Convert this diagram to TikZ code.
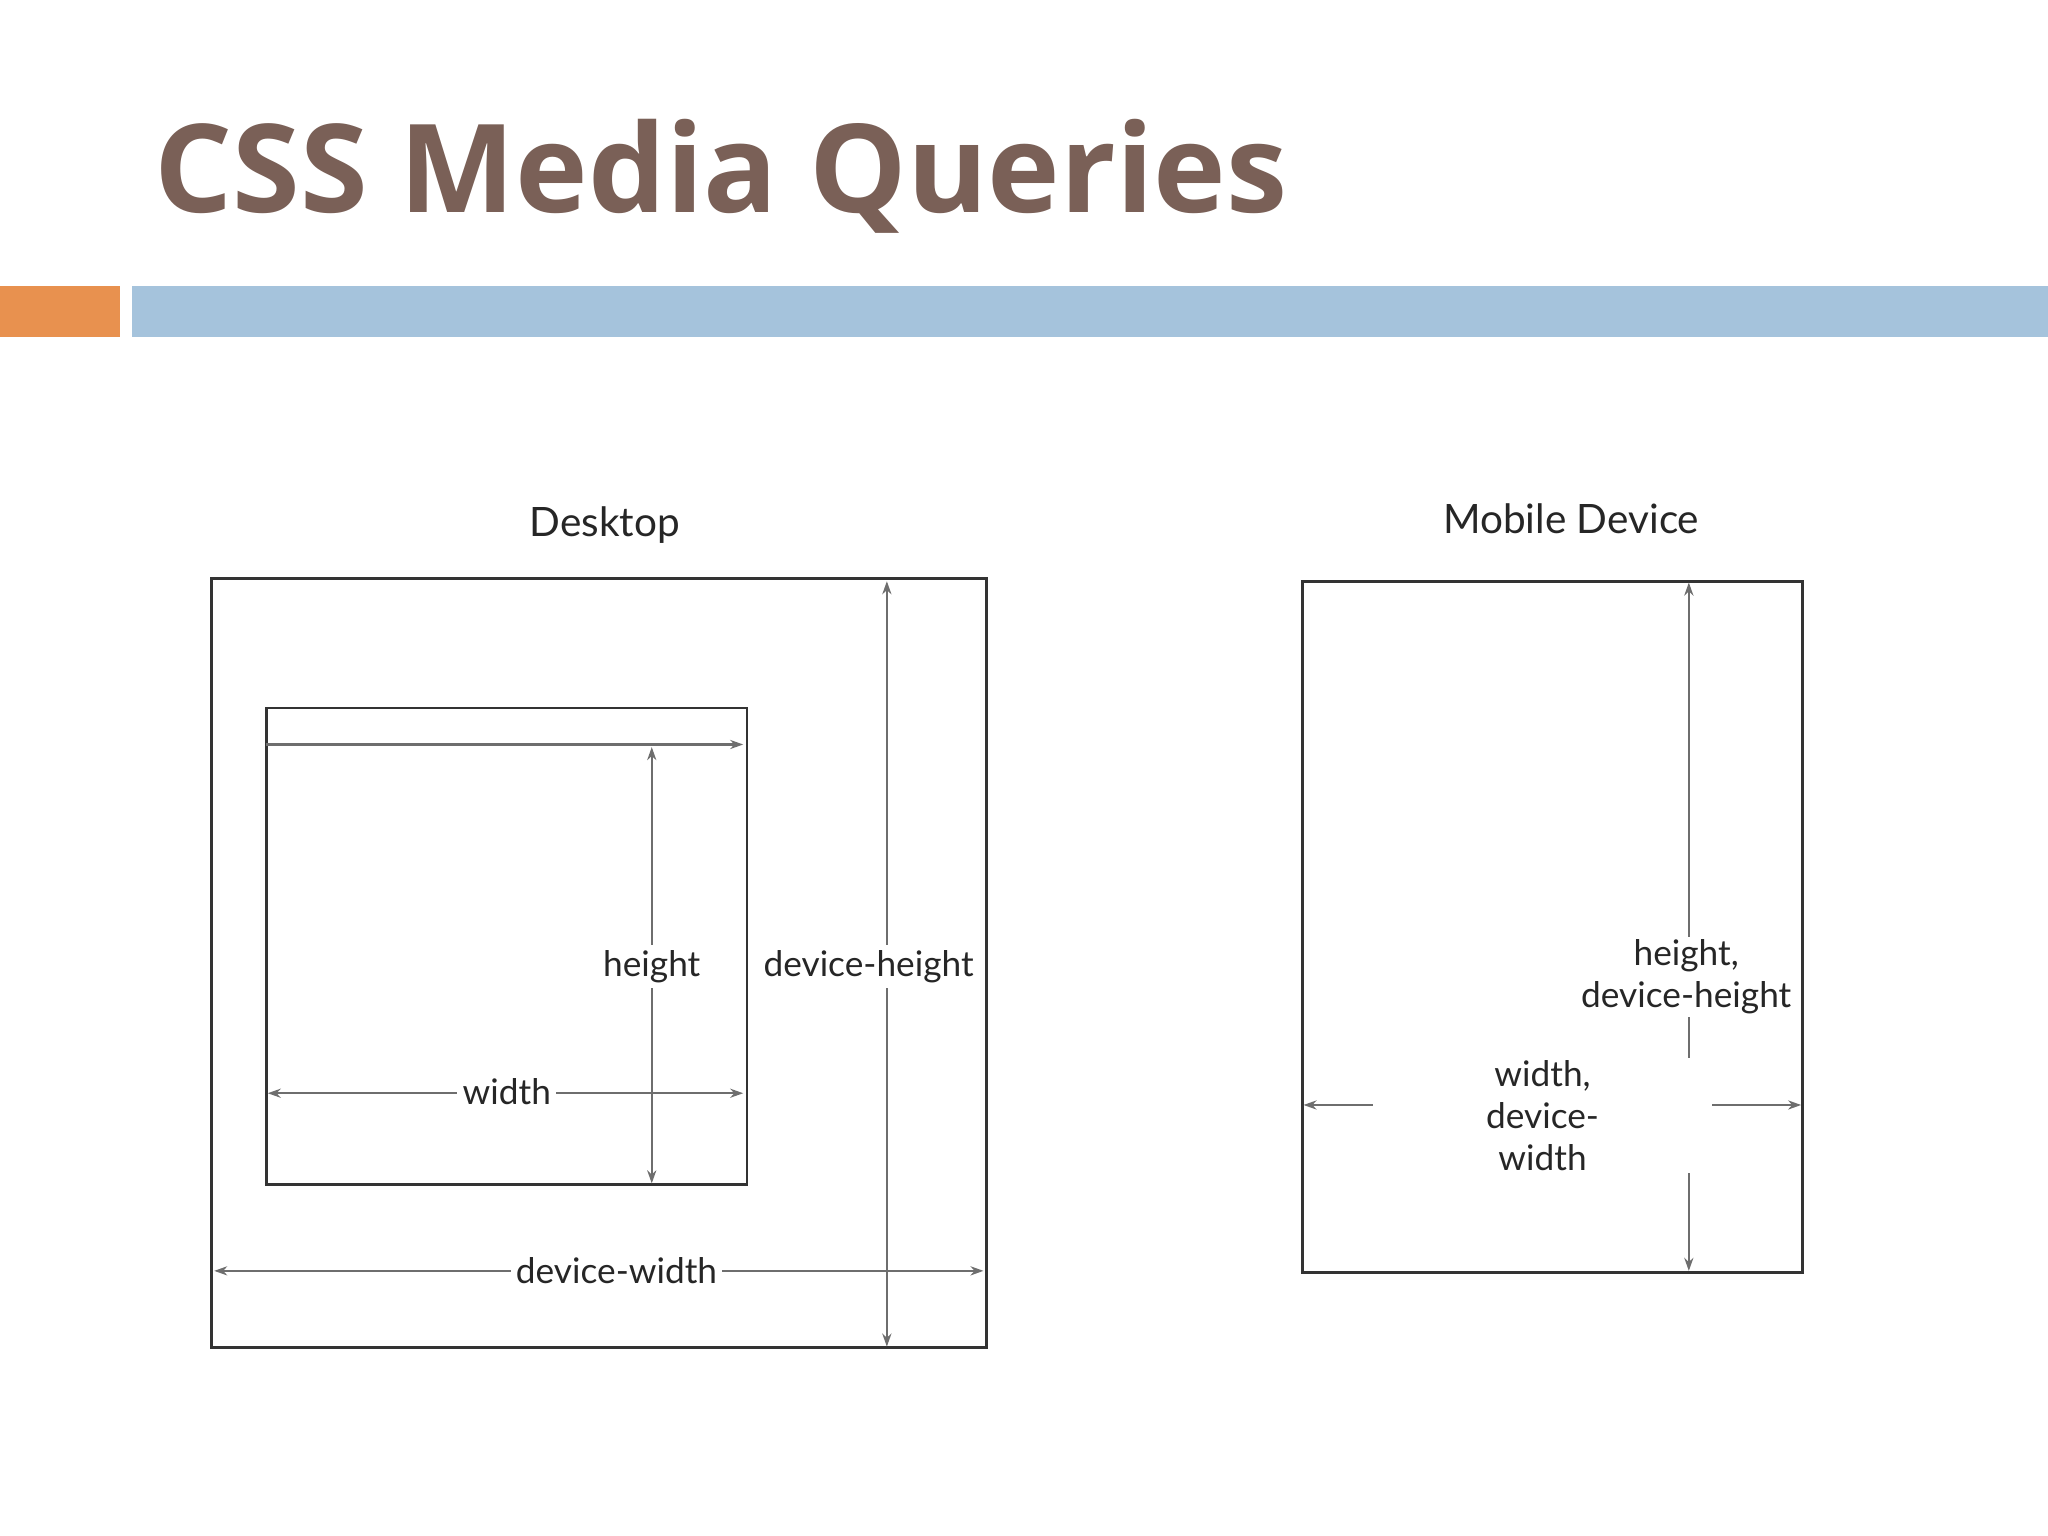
\documentclass[tikz,border=0pt]{standalone}
\usepackage{fontspec}
\setmainfont{Lato}
\newfontfamily\titlefont{Open Sans}
\usetikzlibrary{arrows.meta}
\definecolor{titlebrown}{HTML}{7A6057}
\definecolor{barorange}{HTML}{E8914F}
\definecolor{barblue}{HTML}{A5C3DC}
\definecolor{linegray}{HTML}{6E6E6E}
\begin{document}
\begin{tikzpicture}[x=0.5pt,y=-0.5pt,
  frame/.style={draw=black!80,line width=1.1pt},
  dim/.style={draw=linegray,line width=0.8pt,{Stealth[length=5pt,width=3.5pt]}-{Stealth[length=5pt,width=3.5pt]}},
  dimr/.style={draw=linegray,line width=0.8pt,-{Stealth[length=5pt,width=3.5pt]}},
  lbl/.style={font=\fontsize{13.5}{16}\selectfont,text=black!85,fill=white,inner sep=2pt,align=center},
  head/.style={font=\fontsize{15.5}{18}\selectfont,text=black!85}]
\useasboundingbox (0,0) rectangle (1568,1176);
\fill[white] (0,0) rectangle (1568,1176);
\node[anchor=base west,inner sep=0,font=\titlefont\bfseries\fontsize{47}{50}\selectfont,text=titlebrown] (title) at (118,163) {CSS Media Queries};
\fill[barorange] (0,219) rectangle (92,258);
\fill[barblue] (101,219) rectangle (1568,258);
% Desktop
\node[head] (dtitle) at (463,402) {Desktop};
\draw[frame] (162,443) rectangle (755,1032);
\draw[frame,line width=0.9pt] (204,542) rectangle (572,907);
\coordinate (tl) at (204,570); \coordinate (tr) at (569,570);
\draw[dimr] (tl) -- (tr);
\coordinate (ht) at (499,572); \coordinate (hb) at (499,906);
\draw[dim] (ht) -- (hb);
\node[lbl] (hl) at (499,740) {height};
\coordinate (wl) at (205,837); \coordinate (wr) at (569,837);
\draw[dim] (wl) -- (wr);
\node[lbl] (wlb) at (388,836) {width};
\coordinate (dht) at (679,445); \coordinate (dhb) at (679,1031);
\draw[dim] (dht) -- (dhb);
\node[lbl] (dhl) at (665,740) {device-height};
\coordinate (dwl) at (164,973); \coordinate (dwr) at (753,973);
\draw[dim] (dwl) -- (dwr);
\node[lbl] (dwlb) at (472,973) {device-width};
% Mobile
\node[head] (mtitle) at (1203,397) {Mobile Device};
\draw[frame] (997,445) rectangle (1380,974);
\coordinate (mt) at (1293,446); \coordinate (mb) at (1293,973);
\draw[dim] (mt) -- (mb);
\node[lbl,inner sep=1pt] (ml) at (1291,748) {height,\\device-height};
\coordinate (ml1) at (998,846); \coordinate (mr1) at (1379,846);
\draw[dim] (ml1) -- (mr1);
\node[lbl,inner sep=1pt,minimum width=130] (mwl) at (1181,854) {width,\\device-\\width};
\end{tikzpicture}
\end{document}
